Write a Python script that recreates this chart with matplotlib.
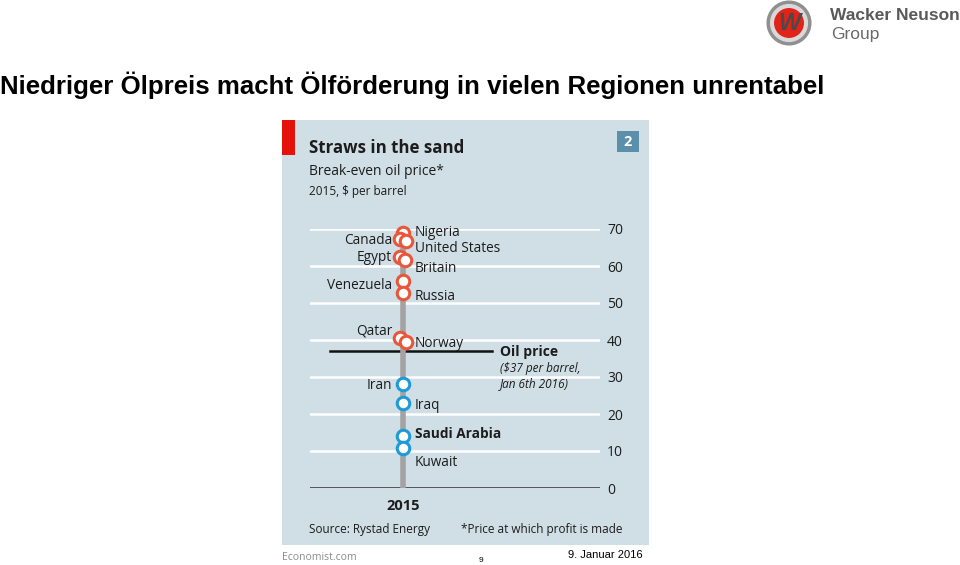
import matplotlib.pyplot as plt
from matplotlib.patches import Rectangle, Circle

# Data: break-even oil price 2015, $ per barrel (Rystad Energy)
countries = ['Nigeria', 'Canada', 'United States', 'Egypt', 'Britain', 'Venezuela',
             'Russia', 'Qatar', 'Norway', 'Iran', 'Iraq', 'Saudi Arabia', 'Kuwait']
breakeven = [68.8, 67.3, 66.8, 62.3, 61.6, 55.9, 52.6, 40.6, 39.5, 28.0, 23.1, 14.1, 10.7]
oil_price = 37
year = 2015
yticks = [0, 10, 20, 30, 40, 50, 60, 70]

# layout: horizontal dodge of overlapping circles, label side and label offset (px, down = +)
dodge = [0, -0.03, 0.03, -0.03, 0.02, 0, 0, -0.03, 0.03, 0, 0, 0, 0]
side = ['r', 'l', 'r', 'l', 'r', 'l', 'r', 'l', 'r', 'l', 'r', 'r', 'r']
label_dy = [-1, 2, 8, 0, 8, 4, 3, -7, 2, 1, 3, -2, 14]

W, H = 960, 565
fx = lambda px: px / W
fy = lambda py: 1 - py / H

fig = plt.figure(figsize=(9.6, 5.65), dpi=100)
fig.patch.set_facecolor('white')

chart_font = 'Open Sans'
slide_font = 'Liberation Sans'
bg = '#d0dee6'
orange = '#e8573c'
blue = '#1e9ad6'
ink = '#1c1c1c'

# slide title
fig.text(fx(0), fy(85), 'Niedriger Ölpreis macht Ölförderung in vielen Regionen unrentabel',
         fontsize=18.6, fontweight='bold', family=slide_font, va='center', ha='left')

# logo
logo = fig.add_axes([fx(766), fy(46), 46 / W, 46 / H])
logo.set_xlim(-1, 1)
logo.set_ylim(-1, 1)
logo.set_aspect('equal')
logo.axis('off')
logo.add_patch(Circle((0, 0), 0.95, color='#8f8f8f'))
logo.add_patch(Circle((0, 0), 0.8, color='#d9d9d9'))
logo.add_patch(Circle((0, 0), 0.62, color='#e2231a'))
logo.text(0, -0.04, 'W', ha='center', va='center', fontsize=17, fontweight='bold',
          style='italic', color='#4a4a4a', family=slide_font)
fig.text(fx(830), fy(16), 'Wacker Neuson', fontsize=12.5, fontweight='bold',
         family=slide_font, color='#5a5a5a', va='center')
fig.text(fx(831), fy(34), 'Group', fontsize=12.5, family=slide_font, color='#6a6a6a', va='center')

# chart panel
fig.add_artist(Rectangle((fx(282), fy(545)), (649 - 282) / W, (545 - 120) / H,
                         transform=fig.transFigure, facecolor=bg, edgecolor='none', zorder=0))
fig.add_artist(Rectangle((fx(282), fy(155)), 13 / W, 35 / H,
                         transform=fig.transFigure, facecolor='#e3120b', edgecolor='none', zorder=1))
fig.add_artist(Rectangle((fx(617), fy(152)), 22 / W, 21 / H,
                         transform=fig.transFigure, facecolor='#5b8faa', edgecolor='none', zorder=1))
fig.text(fx(628), fy(142), '2', color='white', fontsize=10.5, fontweight='bold',
         family=chart_font, ha='center', va='center')

fig.text(fx(309), fy(148), 'Straws in the sand', fontsize=12.2, fontweight='bold',
         family=chart_font, color=ink, va='center')
fig.text(fx(309), fy(172), 'Break-even oil price*', fontsize=10, family=chart_font,
         color=ink, va='center')
fig.text(fx(309), fy(192), '2015, $ per barrel', fontsize=8.5, family=chart_font,
         color=ink, va='center')

# main axes
ax = fig.add_axes([fx(310), fy(488), 290 / W, (488 - 229) / H])
ax.set_facecolor('none')
ax.set_ylim(0, 70)
ax.set_xlim(year - 0.93, year + 1.97)
for s in ax.spines.values():
    s.set_visible(False)

for t in yticks[1:]:
    ax.axhline(t, color='white', lw=1.8, zorder=1)
ax.axhline(0, color='#4a4a4a', lw=1.3, zorder=1)

ax.yaxis.tick_right()
ax.set_yticks(yticks)
ax.set_yticklabels([str(t) for t in yticks], family=chart_font, fontsize=10, color=ink)
ax.tick_params(axis='y', length=0, pad=5)
ax.set_xticks([year])
ax.set_xticklabels([str(year)], family=chart_font, fontsize=10.5, fontweight='bold', color=ink)
ax.tick_params(axis='x', length=0, pad=8)

ax.vlines(year, 0, max(breakeven), color='#a3a3a3', lw=4, zorder=3)
ax.axhline(oil_price, xmin=0.069, xmax=0.628, color='#111111', lw=1.8, zorder=2)

for c, v, d, sd, dy in zip(countries, breakeven, dodge, side, label_dy):
    col = orange if v > oil_price else blue
    ax.plot(year + d, v, 'o', ms=9, mfc='white', mec=col, mew=2.2, zorder=4, clip_on=False)
    right = sd == 'r'
    ax.annotate(c, (year, v), xytext=(12 if right else -11, -dy), textcoords='offset pixels',
                ha='left' if right else 'right', va='center', fontsize=9.8,
                family=chart_font, color=ink,
                fontweight='bold' if c == 'Saudi Arabia' else 'normal')

ax.annotate('Oil price', (year, oil_price), xycoords='data',
            xytext=(97, -1), textcoords='offset pixels', ha='left', va='center',
            fontsize=10, fontweight='bold', family=chart_font, color=ink)
ax.annotate('($37 per barrel,\nJan 6th 2016)', (year, oil_price), xycoords='data',
            xytext=(97, -25), textcoords='offset pixels', ha='left', va='center',
            fontsize=8.5, style='italic', family=chart_font, color=ink, linespacing=1.2)

# footer
fig.text(fx(309), fy(529), 'Source: Rystad Energy', fontsize=8.5, family=chart_font,
         color=ink, va='center')
fig.text(fx(461), fy(529), '*Price at which profit is made', fontsize=8.5, family=chart_font,
         color=ink, va='center')
fig.text(fx(282), fy(557), 'Economist.com', fontsize=7.5, family=chart_font,
         color='#8a8a8a', va='center')
fig.text(fx(481), fy(560), '9', fontsize=6, family=slide_font, va='center', ha='center')
fig.text(fx(643), fy(555), '9. Januar 2016', fontsize=8, family=slide_font,
         va='center', ha='right')

fig.savefig('out.png', dpi=100)
